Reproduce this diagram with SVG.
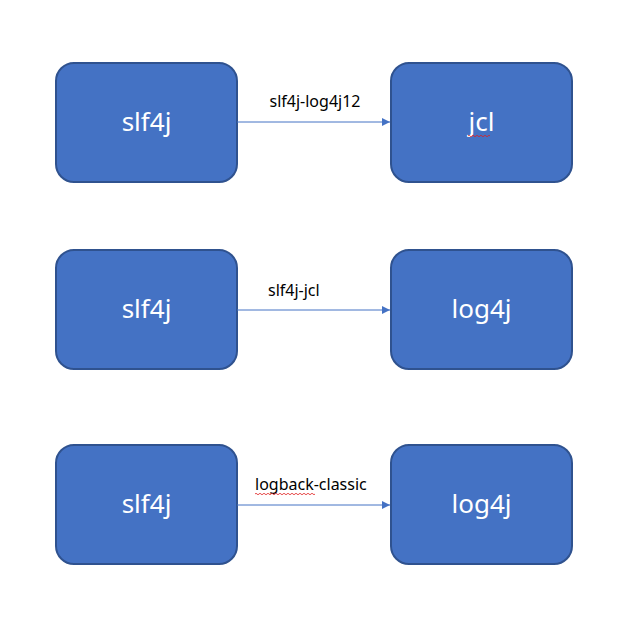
<svg xmlns="http://www.w3.org/2000/svg" width="622" height="633" viewBox="0 0 622 633">
<defs>
<style>
.box{fill:#4472C4;stroke:#2F528F;stroke-width:2}
.nt{font-family:"Noto Sans","Open Sans",sans-serif;font-size:26px;fill:#FFFFFF;text-anchor:middle}
.lt{font-family:"Noto Sans","Open Sans",sans-serif;font-size:16px;fill:#000000}
.edge{stroke:#4472C4;stroke-width:1;fill:none;marker-end:url(#ah)}
.sq{stroke:#E02020;stroke-width:0.8;fill:none}
</style>
<marker id="ah" viewBox="0 0 10 10" refX="10" refY="5" markerWidth="8" markerHeight="8" markerUnits="userSpaceOnUse" orient="auto">
<path d="M0,0 L10,5 L0,10 Z" fill="#4472C4"/>
</marker>
</defs>
<rect width="622" height="633" fill="#FFFFFF"/>
<g id="n1"><rect class="box" x="56" y="63" width="181" height="119" rx="18"/><text class="nt" x="146.5" y="131">slf4j</text></g>
<g id="n2"><rect class="box" x="391" y="63" width="181" height="119" rx="18"/><text class="nt" x="481.5" y="131">jcl</text>
<path class="sq" d="M468,136 q1,-1.5 2,0 t2,0 t2,0 t2,0 t2,0 t2,0 t2,0 t2,0 t2,0 t2,0 t2,0"/></g>
<g id="n3"><rect class="box" x="56" y="250" width="181" height="119" rx="18"/><text class="nt" x="146.5" y="318">slf4j</text></g>
<g id="n4"><rect class="box" x="391" y="250" width="181" height="119" rx="18"/><text class="nt" x="481.5" y="318">log4j</text></g>
<g id="n5"><rect class="box" x="56" y="445" width="181" height="119" rx="18"/><text class="nt" x="146.5" y="513">slf4j</text></g>
<g id="n6"><rect class="box" x="391" y="445" width="181" height="119" rx="18"/><text class="nt" x="481.5" y="513">log4j</text></g>
<g id="edges">
<line class="edge" x1="237" y1="122" x2="390" y2="122"/>
<text class="lt" x="315" y="107" text-anchor="middle">slf4j-log4j12</text>
<line class="edge" x1="237" y1="310" x2="390" y2="310"/>
<text class="lt" x="268" y="296">slf4j-jcl</text>
<line class="edge" x1="237" y1="505" x2="390" y2="505"/>
<text class="lt" x="255" y="490">logback-classic</text>
<path class="sq" d="M255,494 q1,-1.5 2,0 t2,0 t2,0 t2,0 t2,0 t2,0 t2,0 t2,0 t2,0 t2,0 t2,0 t2,0 t2,0 t2,0 t2,0 t2,0 t2,0 t2,0 t2,0 t2,0 t2,0 t2,0 t2,0 t2,0 t2,0 t2,0 t2,0 t2,0 t2,0 t2,0"/>
</g>
</svg>
